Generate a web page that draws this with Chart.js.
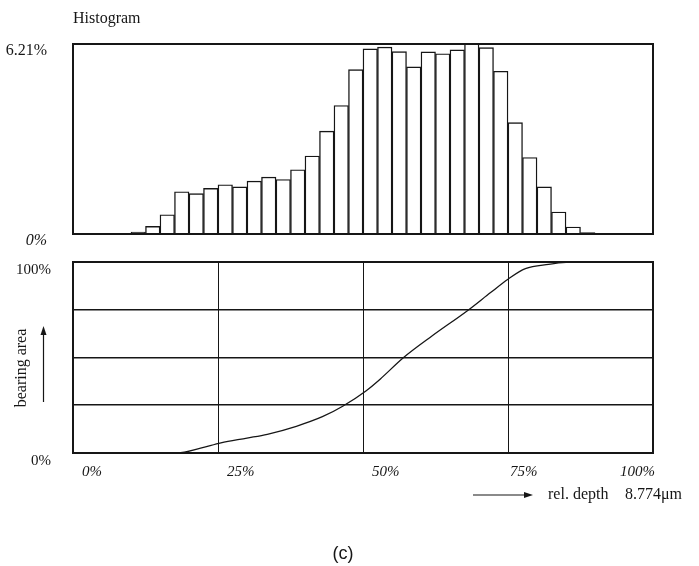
<!DOCTYPE html>
<html>
<head>
<meta charset="utf-8">
<script src="https://cdn.jsdelivr.net/npm/chart.js@4.4.1/dist/chart.umd.min.js"></script>
<style>
  body { margin: 0; background: #fff; }
  #wrap { position: relative; width: 699px; height: 566px; background: #fff; }
  canvas { position: absolute; left: 0; }
  #histChart { top: 0; }
  #bearingChart { top: 250px; }
</style>
</head>
<body>
<div id="wrap">
  <canvas id="histChart" width="699" height="250"></canvas>
  <canvas id="bearingChart" width="699" height="316"></canvas>
</div>
<script>
// histogram bins (start of each 2.5% depth class)
const binStart = [0, 2.5, 5, 7.5, 10, 12.5, 15, 17.5, 20, 22.5,
                  25, 27.5, 30, 32.5, 35, 37.5, 40, 42.5, 45, 47.5,
                  50, 52.5, 55, 57.5, 60, 62.5, 65, 67.5, 70, 72.5,
                  75, 77.5, 80, 82.5, 85, 87.5, 90, 92.5, 95, 97.5];
const histValues = [0, 0, 0, 0, 0.06, 0.25, 0.63, 1.38, 1.32, 1.49,
                    1.61, 1.54, 1.73, 1.86, 1.78, 2.10, 2.55, 3.36, 4.20, 5.37,
                    6.05, 6.11, 5.96, 5.46, 5.95, 5.89, 6.02, 6.21, 6.09, 5.32,
                    3.64, 2.50, 1.54, 0.72, 0.23, 0.05, 0, 0, 0, 0];
const histTicks = [0, 6.21];

// bearing area curve
const curveDepth = [0, 10, 18, 22, 25.5, 30, 33.5, 38.5, 43, 46.5, 50.5, 53, 57, 62, 68, 72, 75, 78, 82, 85, 90, 100];
const curveArea  = [0, 0, 0, 2.5, 5.3, 7.8, 9.8, 14, 19, 24.5, 32.5, 38.8, 50, 61.5, 74.5, 84, 91, 96.5, 98.8, 99.8, 100, 100];
const depthTicks = [0, 25, 50, 75, 100];
const areaTicks = [0, 25, 50, 75, 100];

const ink = '#161616';
const serif = '"Liberation Serif", "DejaVu Serif", serif';

// tick label padding would otherwise push the plot area in
const noLabelPadding = s => { s.width = 73; s.paddingTop = 0; s.paddingBottom = 0; };

const framePlugin = {
  id: 'frame',
  afterDatasetsDraw(chart) {
    const { ctx, chartArea: a } = chart;
    ctx.save();
    ctx.strokeStyle = ink;
    ctx.lineWidth = 2;
    ctx.strokeRect(a.left, a.top, a.right - a.left, a.bottom - a.top);
    ctx.restore();
  }
};

const histTitle = {
  id: 'histTitle',
  afterDraw(chart) {
    const { ctx, chartArea: a } = chart;
    ctx.save();
    ctx.fillStyle = ink;
    ctx.font = '16px ' + serif;
    ctx.textAlign = 'left';
    ctx.textBaseline = 'alphabetic';
    ctx.fillText('Histogram', a.left, 23);
    ctx.restore();
  }
};

new Chart(document.getElementById('histChart'), {
  type: 'bar',
  data: {
    labels: binStart,
    datasets: [{
      data: histValues,
      backgroundColor: '#fff',
      borderColor: ink,
      borderWidth: 1.4,
      barPercentage: 1,
      categoryPercentage: 1
    }]
  },
  options: {
    responsive: false,
    animation: false,
    layout: { padding: { left: 0, top: 44, right: 46, bottom: 16 } },
    plugins: { legend: { display: false }, tooltip: { enabled: false } },
    scales: {
      x: { display: false },
      y: {
        min: 0,
        max: 6.21,
        afterBuildTicks: s => { s.ticks = histTicks.map(v => ({ value: v })); },
        afterFit: noLabelPadding,
        grid: { display: false },
        border: { display: false },
        ticks: {
          padding: 18,
          labelOffset: 7,
          color: ink,
          font: c => ({ family: serif, size: 16, style: c.tick && c.tick.value === 0 ? 'italic' : 'normal' }),
          callback: v => v === 0 ? '0%' : v.toFixed(2) + '%'
        }
      }
    }
  },
  plugins: [framePlugin, histTitle]
});

const bearingText = {
  id: 'bearingText',
  afterDraw(chart) {
    const { ctx, chartArea: a } = chart;
    const xs = chart.scales.x;
    ctx.save();
    ctx.fillStyle = ink;
    ctx.strokeStyle = ink;

    // x tick labels sit just right of each grid line, last one right aligned
    ctx.font = 'italic 15px ' + serif;
    ctx.textBaseline = 'middle';
    depthTicks.forEach((v, i) => {
      const px = xs.getPixelForValue(v);
      if (i === depthTicks.length - 1) {
        ctx.textAlign = 'right';
        ctx.fillText(v + '%', px + 2, a.bottom + 19);
      } else {
        ctx.textAlign = 'left';
        ctx.fillText(v + '%', px + (i === 3 ? 2 : 9), a.bottom + 19);
      }
    });

    // y title with arrow
    ctx.save();
    ctx.translate(22, 118);
    ctx.rotate(-Math.PI / 2);
    ctx.font = '16px ' + serif;
    ctx.textAlign = 'center';
    ctx.fillText('bearing area', 0, 0);
    ctx.restore();

    ctx.lineWidth = 1.2;
    ctx.beginPath();
    ctx.moveTo(43.5, 152);
    ctx.lineTo(43.5, 82);
    ctx.stroke();
    ctx.beginPath();
    ctx.moveTo(43.5, 76);
    ctx.lineTo(40.5, 85);
    ctx.lineTo(46.5, 85);
    ctx.closePath();
    ctx.fill();

    // x title with arrow
    ctx.beginPath();
    ctx.moveTo(473, 245);
    ctx.lineTo(526, 245);
    ctx.stroke();
    ctx.beginPath();
    ctx.moveTo(533, 245);
    ctx.lineTo(524, 242);
    ctx.lineTo(524, 248);
    ctx.closePath();
    ctx.fill();

    ctx.font = '16px ' + serif;
    ctx.textAlign = 'left';
    ctx.textBaseline = 'middle';
    ctx.fillText('rel. depth', 548, 245);
    ctx.fillText('8.774\u03bcm', 625, 245);

    ctx.font = '18px "Liberation Sans", Arial, sans-serif';
    ctx.textAlign = 'center';
    ctx.fillText('(c)', 343, 304);
    ctx.restore();
  }
};

new Chart(document.getElementById('bearingChart'), {
  type: 'line',
  data: {
    datasets: [{
      data: curveDepth.map((d, i) => ({ x: d, y: curveArea[i] })),
      borderColor: ink,
      borderWidth: 1.3,
      pointRadius: 0,
      fill: false,
      cubicInterpolationMode: 'monotone'
    }]
  },
  options: {
    responsive: false,
    animation: false,
    layout: { padding: { left: 0, top: 12, right: 46, bottom: 113 } },
    plugins: { legend: { display: false }, tooltip: { enabled: false } },
    scales: {
      x: {
        type: 'linear',
        min: 0,
        max: 100,
        afterBuildTicks: s => { s.ticks = depthTicks.map(v => ({ value: v })); },
        afterFit: s => { s.height = 0; s.paddingLeft = 0; s.paddingRight = 0; },
        border: { display: false },
        grid: { color: ink, lineWidth: 1, drawTicks: false },
        ticks: { display: false }
      },
      y: {
        min: 0,
        max: 100,
        afterBuildTicks: s => { s.ticks = areaTicks.map(v => ({ value: v })); },
        afterFit: noLabelPadding,
        border: { display: false },
        grid: { color: ink, lineWidth: 1.6, drawTicks: false },
        ticks: {
          padding: 22,
          labelOffset: 8,
          color: ink,
          font: { family: serif, size: 15 },
          callback: v => (v === 0 || v === 100) ? v + '%' : ''
        }
      }
    }
  },
  plugins: [framePlugin, bearingText]
});
</script>
</body>
</html>
